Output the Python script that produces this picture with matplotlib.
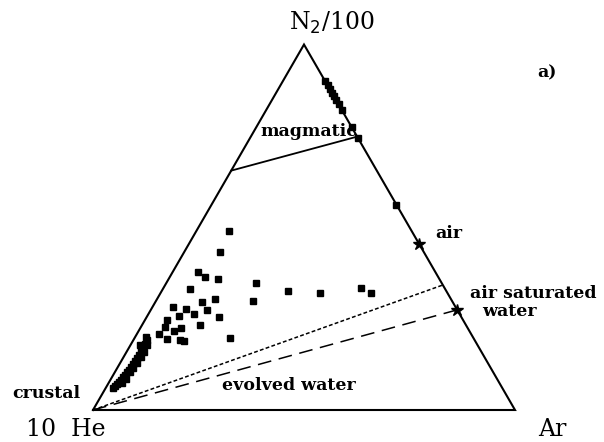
import numpy as np
import matplotlib
matplotlib.use("Agg")
import matplotlib.pyplot as plt

# ternary compositions as fractions: (N2/100, Ar), He = 1 - N2 - Ar
crustal_n2 = [0.192, 0.181, 0.170, 0.161, 0.150, 0.142, 0.134, 0.126, 0.118, 0.109,
              0.104, 0.096, 0.090, 0.082, 0.077, 0.071, 0.066, 0.060, 0.104, 0.085,
              0.074, 0.115, 0.129, 0.145, 0.159]
crustal_ar = [0.032, 0.033, 0.033, 0.033, 0.034, 0.033, 0.032, 0.032, 0.031, 0.031,
              0.029, 0.028, 0.026, 0.025, 0.023, 0.021, 0.019, 0.017, 0.036, 0.036,
              0.032, 0.037, 0.040, 0.041, 0.041]

mixed_n2 = [0.490, 0.432, 0.378, 0.364, 0.358, 0.331, 0.295, 0.304, 0.282, 0.276,
            0.274, 0.263, 0.257, 0.254, 0.246, 0.233, 0.227, 0.224, 0.216, 0.208,
            0.194, 0.192, 0.189, 0.197, 0.200, 0.178, 0.178,
            0.347, 0.298, 0.326, 0.320, 0.334, 0.320]
mixed_ar = [0.077, 0.085, 0.060, 0.083, 0.117, 0.064, 0.110, 0.137, 0.049, 0.082,
            0.133, 0.108, 0.075, 0.172, 0.052, 0.138, 0.057, 0.097, 0.084, 0.052,
            0.078, 0.110, 0.122, 0.226, 0.026, 0.022, 0.039,
            0.212, 0.230, 0.299, 0.378, 0.468, 0.499]

# samples with no He (on the N2-Ar side)
edge_ar = [0.101, 0.112, 0.123, 0.132, 0.141, 0.151, 0.164, 0.178, 0.227, 0.255, 0.438]
edge_n2 = [1 - a for a in edge_ar]

air = (0.455, 0.545)
asw = (0.274, 0.726)
magmatic_line = ([0.655, 0.748], [0.0, 0.252])
evolved_dotted = ([0.0, 0.342], [0.0, 0.658])


def tern(n2, ar):
    n2 = np.asarray(n2, dtype=float)
    ar = np.asarray(ar, dtype=float)
    return ar + n2 / 2, n2 * np.sqrt(3) / 2


fig = plt.figure(figsize=(6.04, 4.42), dpi=100)
ax = fig.add_axes([0, 0, 1, 1])
ax.set_xlim(-93 / 422, 511 / 422)
ax.set_ylim(-32 / 422, 410 / 422)
ax.axis("off")

# frame
tx, ty = tern([0, 0, 1, 0], [0, 1, 0, 0])
ax.plot(tx, ty, color="black", lw=1.5, solid_joinstyle="miter")

x, y = tern(*magmatic_line)
ax.plot(x, y, color="black", lw=1.3)
x, y = tern(*evolved_dotted)
ax.plot(x, y, color="black", lw=1.1, linestyle=(0, (2.5, 1.5)))
x, y = tern([0, asw[0]], [0, asw[1]])
ax.plot(x, y, color="black", lw=1.1, linestyle=(0, (9, 5)))

x, y = tern(crustal_n2, crustal_ar)
ax.plot(x, y, "s", color="black", ms=5)
x, y = tern(mixed_n2, mixed_ar)
ax.plot(x, y, "s", color="black", ms=5)
x, y = tern(edge_n2, edge_ar)
ax.plot(x, y, "s", color="black", ms=5)
x, y = tern([air[0], asw[0]], [air[1], asw[1]])
ax.plot(x, y, "*", color="black", ms=9)

big = dict(family="DejaVu Serif", fontsize=17, color="black")
small = dict(family="DejaVu Serif", fontsize=12.5, fontweight="bold", color="black")


def px(u, v):
    return (u - 93) / 422, (410 - v) / 422


ax.text(*px(332, 23), "N$_2$/100", ha="center", va="center", **big)
ax.text(*px(66, 430), "10  He", ha="center", va="center", **big)
ax.text(*px(552, 430), "Ar", ha="center", va="center", **big)
ax.text(*px(547, 73), "a)", ha="center", va="center", **small)
ax.text(*px(309, 131), "magmatic", ha="center", va="center", **small)
ax.text(*px(435, 233), "air", ha="left", va="center", **small)
ax.text(*px(470, 294), "air saturated", ha="left", va="center", **small)
ax.text(*px(482, 311), "water", ha="left", va="center", **small)
ax.text(*px(222, 386), "evolved water", ha="left", va="center", **small)
ax.text(*px(46, 393), "crustal", ha="center", va="center", **small)

fig.savefig("out.png", dpi=100)
